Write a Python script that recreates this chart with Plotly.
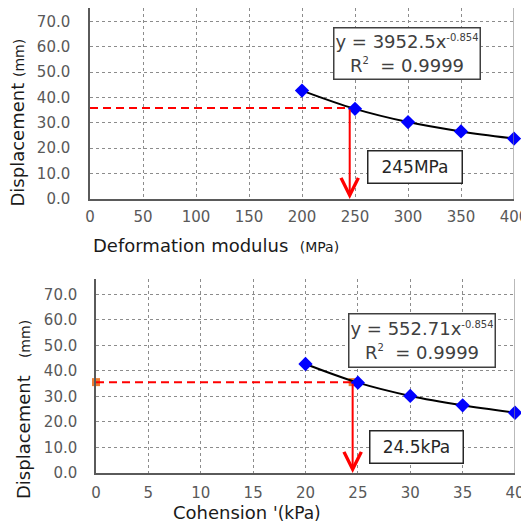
import plotly.graph_objects as go

# ---- data ----
top_x = [200, 250, 300, 350, 400]
top_y = [42.7, 35.5, 30.3, 26.6, 23.8]
bot_x = [20, 25, 30, 35, 40]
bot_y = [42.7, 35.4, 30.2, 26.5, 23.6]

top_target_x = 245
top_target_y = 35.8
bot_target_x = 24.5
bot_target_y = 35.6

y_ticks = [0, 10, 20, 30, 40, 50, 60, 70]
top_x_ticks = [0, 50, 100, 150, 200, 250, 300, 350, 400]
bot_x_ticks = [0, 5, 10, 15, 20, 25, 30, 35, 40]

SUP = "<sup><span style='font-size:10px'>%s</span></sup>"
top_eq = "y = 3952.5x" + SUP % "-0.854" + "<br>R" + SUP % "2" + "  = 0.9999"
bot_eq = "y = 552.71x" + SUP % "-0.854" + "<br>R" + SUP % "2" + "  = 0.9999"
top_label = "245MPa"
bot_label = "24.5kPa"

# the page body has an 8px margin, so the figure is drawn 8px in from the window corner
OFF = 8
W, H = 529 - OFF, 526 - OFF
FONT = "DejaVu Sans"
TICKC = "#595959"
TITLEC = "#1a1a1a"
RED = "#ff0000"
BLUE = "#0000ff"
ORANGE = "#ed7d31"


def px(x):
    return (x - OFF) / W


def py(y):
    return min(1.0, 1 - (y - OFF) / H)


fig = go.Figure()

# ---- top chart ----
fig.add_trace(go.Scatter(x=[0, top_target_x], y=[top_target_y, top_target_y], mode="lines",
                         line=dict(color=RED, width=2, dash="8px,5px"), xaxis="x", yaxis="y",
                         hoverinfo="skip"))
fig.add_trace(go.Scatter(x=top_x, y=top_y, mode="lines", line=dict(color="black", width=2, shape="spline"),
                         xaxis="x", yaxis="y"))
fig.add_trace(go.Scatter(x=top_x, y=top_y, mode="markers",
                         marker=dict(symbol="diamond", size=11, color=BLUE), xaxis="x", yaxis="y",
                         cliponaxis=False))

# ---- bottom chart ----
fig.add_trace(go.Scatter(x=[0, bot_target_x], y=[bot_target_y, bot_target_y], mode="markers",
                         marker=dict(symbol="square", size=8, color=ORANGE), xaxis="x2", yaxis="y2",
                         cliponaxis=False))
fig.add_trace(go.Scatter(x=[0, bot_target_x], y=[bot_target_y, bot_target_y], mode="lines",
                         line=dict(color=RED, width=2, dash="8px,5px"), xaxis="x2", yaxis="y2"))
fig.add_trace(go.Scatter(x=bot_x, y=bot_y, mode="lines", line=dict(color="black", width=2, shape="spline"),
                         xaxis="x2", yaxis="y2"))
fig.add_trace(go.Scatter(x=bot_x, y=bot_y, mode="markers",
                         marker=dict(symbol="diamond", size=11, color=BLUE), xaxis="x2", yaxis="y2",
                         cliponaxis=False))

axis_common = dict(showgrid=True, gridcolor="#8c8c8c", griddash="dot", gridwidth=1,
                   showline=True, linecolor="#5a5a5a", linewidth=1.5, ticks="", zeroline=False,
                   tickfont=dict(family=FONT, size=15, color=TICKC), fixedrange=True,
                   automargin=False, ticklabeloverflow="allow")

# top y axis: 0 at window y 199, 10 units per 25.39 px; plot top clipped at window y 8
top_ymax = (199 - 8) / 2.539

fig.update_layout(
    width=W, height=H, margin=dict(l=0, r=0, t=0, b=0, autoexpand=False),
    paper_bgcolor="white", plot_bgcolor="white", showlegend=False,
    xaxis=dict(domain=[px(90), px(514)], range=[0, 400], tickvals=top_x_ticks, anchor="y",
               ticklabelstandoff=3, **axis_common),
    yaxis=dict(domain=[py(199), py(8)], range=[0, top_ymax], tickvals=y_ticks, tickformat=".1f",
               anchor="x", ticklabelstandoff=15, **axis_common),
    xaxis2=dict(domain=[px(96), px(515)], range=[0, 40], tickvals=bot_x_ticks, anchor="y2",
                ticklabelstandoff=5, **axis_common),
    yaxis2=dict(domain=[py(473), py(279)], range=[0, 76], tickvals=y_ticks, tickformat=".1f",
                anchor="x2", ticklabelstandoff=14, **axis_common),
)

# right border lines
fig.add_shape(type="line", xref="x", yref="y domain", x0=400, x1=400, y0=0, y1=1,
              line=dict(color="#8a8a8a", width=1.2))
fig.add_shape(type="line", xref="x2", yref="y2 domain", x0=40, x1=40, y0=0, y1=1,
              line=dict(color="#8a8a8a", width=1.2))

# arrows (open V heads)
fig.add_annotation(x=top_target_x, y=0, ax=top_target_x, ay=top_target_y, xref="x", yref="y",
                   axref="x", ayref="y", text="", showarrow=True, arrowcolor=RED, arrowwidth=2,
                   arrowhead=5, arrowsize=1.7)
fig.add_annotation(x=bot_target_x, y=0, ax=bot_target_x, ay=bot_target_y, xref="x2", yref="y2",
                   axref="x2", ayref="y2", text="", showarrow=True, arrowcolor=RED, arrowwidth=2,
                   arrowhead=5, arrowsize=1.7)

box_font = dict(family=FONT, size=18, color="#404040")
box_common = dict(xref="paper", yref="paper", showarrow=False, xanchor="center", yanchor="middle",
                  bgcolor="white", borderwidth=1.5, borderpad=1, align="center")
# equation boxes
fig.add_annotation(x=px(406.5), y=py(53), text=top_eq, font=box_font, bordercolor="#404040",
                   width=143, height=48, **box_common)
fig.add_annotation(x=px(421.5), y=py(340), text=bot_eq, font=box_font, bordercolor="#404040",
                   width=143, height=50, **box_common)
# result boxes
fig.add_annotation(x=px(414.5), y=py(166.5), text=top_label,
                   font=dict(family=FONT, size=17, color="#262626"), bordercolor="#262626",
                   width=91, height=29, **box_common)
fig.add_annotation(x=px(416), y=py(446.5), text=bot_label,
                   font=dict(family=FONT, size=17, color="#262626"), bordercolor="#262626",
                   width=90, height=29, **box_common)

# axis titles
title_font = dict(family=FONT, size=18, color=TITLEC)
fig.add_annotation(x=px(16.5), y=py(123), xref="paper", yref="paper",
                   text="Displacement <span style='font-size:14px'>(mm)</span>", textangle=-90,
                   showarrow=False, font=title_font, xanchor="center", yanchor="middle")
fig.add_annotation(x=px(23), y=py(410), xref="paper", yref="paper",
                   text="Displacement   <span style='font-size:14px'>(mm)</span>", textangle=-90,
                   showarrow=False, font=title_font, xanchor="center", yanchor="middle")
fig.add_annotation(x=px(91), y=py(245), xref="paper", yref="paper",
                   text="Deformation modulus  <span style='font-size:14px'>(MPa)</span>",
                   showarrow=False, font=title_font, xanchor="left", yanchor="middle")
fig.add_annotation(x=px(171), y=py(512), xref="paper", yref="paper",
                   text="Cohension <span style='font-size:17px'>'(kPa)</span>",
                   showarrow=False, font=title_font, xanchor="left", yanchor="middle")

fig.write_html("out.html")
